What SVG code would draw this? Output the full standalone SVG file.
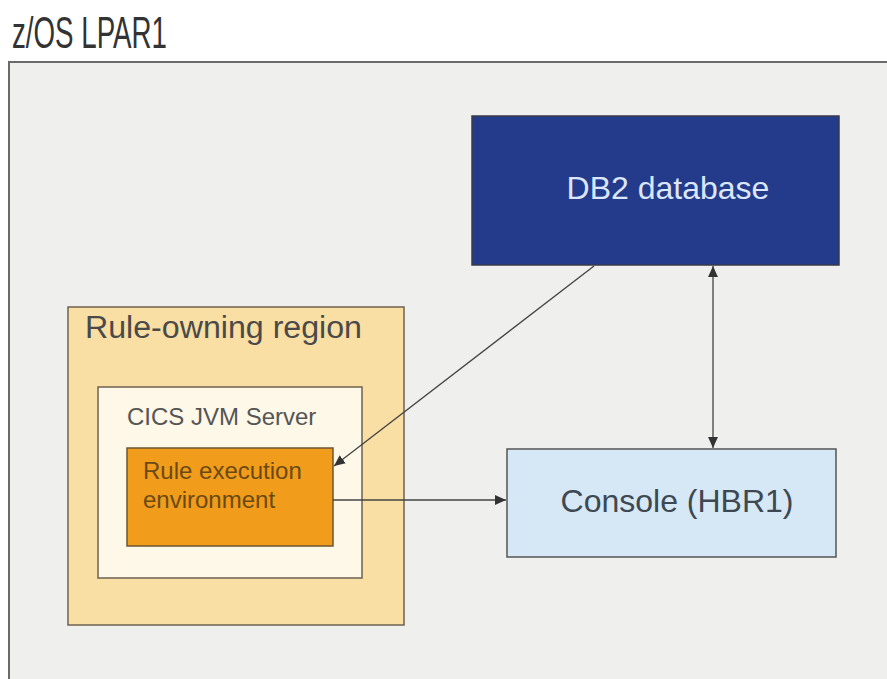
<svg xmlns="http://www.w3.org/2000/svg" width="887" height="679" viewBox="0 0 887 679">
<style>
text{font-family:"Liberation Sans",Arial,sans-serif}
.conn{stroke:#444;stroke-width:1.3;fill:none}
</style>
<defs>
<marker id="ah" viewBox="0 0 10 10" refX="10" refY="5" markerWidth="11" markerHeight="11" markerUnits="userSpaceOnUse" orient="auto-start-reverse">
<path d="M0,0.5 L10,5 L0,9.5 z" fill="#333"/>
</marker>
</defs>
<rect x="0" y="0" width="887" height="679" fill="#ffffff"/>
<g id="lpar">
<rect x="9" y="62" width="882" height="622" fill="#efefed" stroke="#6a6a6a" stroke-width="2"/>
<text x="12" y="48" font-size="44" fill="#333" textLength="155" lengthAdjust="spacingAndGlyphs">z/OS LPAR1</text>
</g>
<g id="db2">
<rect x="472" y="116" width="367" height="149" fill="#233b8a" stroke="#3a3a4a" stroke-width="1.5"/>
<text x="668" y="199" font-size="32" fill="#dbe6fa" text-anchor="middle">DB2 database</text>
</g>
<g id="rule-owning-region">
<rect x="68" y="307" width="336" height="318" fill="#f9dfa4" stroke="#6e6250" stroke-width="1.5"/>
<text x="85" y="338" font-size="31" fill="#4a4a4a" textLength="277" lengthAdjust="spacingAndGlyphs">Rule-owning region</text>
</g>
<g id="cics-jvm-server">
<rect x="98" y="387" width="264" height="191" fill="#fdf8e8" stroke="#6e6250" stroke-width="1.5"/>
<text x="127" y="425" font-size="24" fill="#555">CICS JVM Server</text>
</g>
<g id="rule-execution-environment">
<rect x="127" y="448" width="206" height="98" fill="#f29c1b" stroke="#6e5530" stroke-width="1.5"/>
<text x="143" y="479" font-size="24" fill="#6a4a14">Rule execution</text>
<text x="143" y="508" font-size="24" fill="#6a4a14">environment</text>
</g>
<g id="console">
<rect x="507" y="449" width="329" height="108" fill="#d6e8f5" stroke="#555" stroke-width="1.5"/>
<text x="677" y="512" font-size="32" fill="#3d4852" text-anchor="middle">Console (HBR1)</text>
</g>
<g id="connectors">
<line class="conn" x1="594" y1="266" x2="334" y2="466" marker-end="url(#ah)"/>
<line class="conn" x1="713" y1="266" x2="713" y2="448" marker-start="url(#ah)" marker-end="url(#ah)"/>
<line class="conn" x1="333" y1="500" x2="506" y2="500" marker-end="url(#ah)"/>
</g>
</svg>
